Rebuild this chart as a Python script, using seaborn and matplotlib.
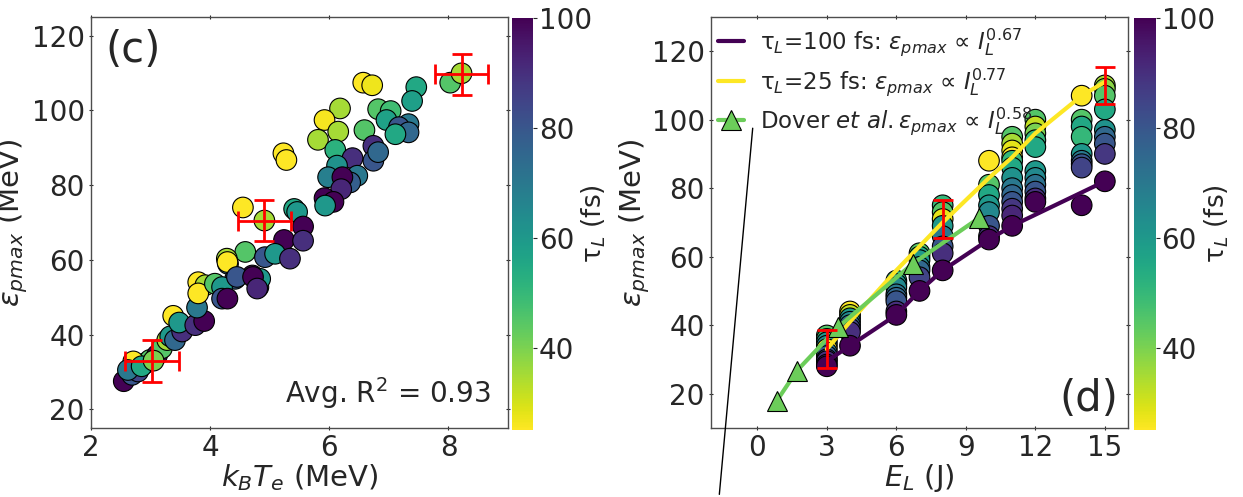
import numpy as np
import pandas as pd
import matplotlib
matplotlib.use("Agg")
import matplotlib.pyplot as plt
import seaborn as sns

# ---- painel (c): eps_pmax vs kB*Te, cor = tau_L ----
te_c = [8.03, 8.22, 7.46, 7.39, 6.82, 7.03, 6.96, 7.33, 7.17, 7.33, 7.11,
        6.57, 6.72, 6.18, 5.92, 6.15, 5.81, 6.59, 6.10, 6.74, 6.74, 6.82,
        6.39, 6.13, 5.98, 6.47, 6.35, 6.22, 6.20, 5.92, 6.07, 5.93,
        5.23, 5.28, 4.55, 4.91, 5.41, 5.46, 5.56, 5.24, 5.56,
        4.59, 4.92, 5.09, 5.34, 4.30, 4.42, 4.71, 4.81, 4.84, 4.28,
        2.55, 2.69, 2.79, 2.91, 2.99, 3.11, 2.71, 3.19, 3.28, 3.33, 3.41,
        3.53, 3.38, 3.48, 3.75, 3.90, 3.78, 3.80, 3.92, 3.80, 4.08, 4.20,
        4.20, 4.29, 4.29, 4.45, 4.72, 4.79, 2.62, 2.85, 3.05]
eps_c = [107.4, 109.9, 106.2, 102.5, 100.3, 99.8, 97.4, 96.3, 95.5, 94.1, 93.6,
         107.4, 106.7, 100.5, 97.4, 94.3, 92.1, 94.7, 89.4, 90.5, 86.5, 88.8,
         87.2, 85.2, 82.1, 82.5, 80.7, 82.1, 78.9, 76.5, 75.5, 74.5,
         88.5, 86.7, 74.0, 70.5, 73.6, 72.8, 68.9, 65.3, 65.1,
         62.1, 60.7, 61.6, 60.3, 58.9, 54.9, 55.8, 52.7, 54.9, 60.3,
         27.5, 29.2, 30.1, 32.3, 33.2, 34.5, 32.8, 36.3, 38.5, 39.5, 38.5,
         40.8, 45.0, 43.2, 42.5, 43.6, 47.2, 54.0, 53.2, 51.0, 53.6, 52.7,
         49.6, 49.6, 59.4, 55.4, 55.4, 52.3, 30.5, 31.5, 33.0]
tau_c = [45, 35, 55, 58, 45, 48, 57, 70, 80, 75, 55,
         25, 27, 35, 26, 35, 35, 45, 52, 90, 80, 75,
         90, 62, 68, 70, 78, 100, 92, 100, 100, 60,
         25, 25, 25, 35, 55, 60, 100, 100, 90,
         45, 80, 60, 90, 70, 78, 100, 90, 60, 35,
         100, 80, 85, 65, 45, 100, 25, 45, 35, 60, 75,
         90, 25, 60, 90, 100, 70, 25, 35, 25, 45, 60,
         80, 100, 25, 80, 100, 92, 70, 55, 40]

# barras de erro (c)
err_te = [8.22, 4.91, 3.02]
err_eps_c = [109.6, 70.5, 32.9]

# ---- painel (d): eps_pmax vs E_L ----
e_d = ([3] * 11 + [4] * 8 + [6] * 8 + [7] * 7 + [8] * 8 + [10] * 8
       + [11] * 13 + [12] * 11 + [14] * 9 + [15] * 9)
eps_d = [37, 36, 35, 34, 33, 32, 31, 30, 29.5, 28.5, 28,
         44, 43, 42, 41, 40, 39, 38, 34,
         53, 52, 51, 49, 48, 47, 44, 43,
         61, 60, 59, 57, 56, 54, 50,
         75, 73, 71, 69, 66, 63, 61, 56,
         88, 81, 78, 75, 73, 69, 66, 65,
         95, 93, 91, 89, 88, 86, 83, 80, 78, 76, 74, 72, 69,
         100, 98, 96, 94, 92, 85, 83, 81, 79, 77, 76,
         107, 100, 98, 95, 90, 88, 87, 86, 75,
         110, 109, 107, 103, 97, 95, 93, 90, 82]
tau_d = [45, 50, 60, 65, 25, 70, 78, 85, 90, 95, 100,
         25, 32, 60, 65, 75, 85, 90, 100,
         55, 60, 65, 70, 75, 80, 90, 100,
         45, 55, 60, 65, 75, 85, 100,
         50, 45, 28, 60, 70, 80, 90, 100,
         25, 45, 55, 60, 65, 80, 90, 100,
         45, 35, 28, 25, 50, 55, 62, 70, 75, 80, 88, 92, 100,
         45, 32, 40, 50, 55, 60, 65, 72, 80, 90, 100,
         25, 45, 55, 50, 60, 70, 80, 85, 100,
         35, 38, 45, 55, 62, 75, 80, 88, 100]

# ajustes
e_fit100 = [3, 4, 6, 7, 8, 10, 11, 15]
eps_fit100 = [29.5, 34, 43, 50, 56, 65, 69, 82]
e_fit25 = [3, 4, 6, 7, 8, 10, 11, 12, 14, 15]
eps_fit25 = [33, 41, 56, 63, 70, 83, 89, 96, 107, 111]
e_dover = [0.85, 1.71, 3.5, 6.7, 9.57]
eps_dover = [18, 26.7, 39.5, 57.9, 71.3]

# barras de erro (d)
err_e = [3, 8, 15]
err_eps_d = [33, 71, 110]

df_c = pd.DataFrame({"Te": te_c, "eps": eps_c, "tau": tau_c})
df_d = pd.DataFrame({"E": e_d, "eps": eps_d, "tau": tau_d})

sns.set_style("white")
plt.rcParams["font.family"] = ["DejaVu Sans"]
plt.rcParams["mathtext.fontset"] = "dejavusans"

cmap = "viridis_r"
norm = plt.Normalize(25, 100)
fs = 20

fig = plt.figure(figsize=(12.43, 4.97), dpi=100)
ax1 = fig.add_axes([0.0732, 0.139, 0.3355, 0.827])
cax1 = fig.add_axes([0.412, 0.135, 0.017, 0.829])
ax2 = fig.add_axes([0.572, 0.139, 0.3355, 0.827])
cax2 = fig.add_axes([0.9123, 0.135, 0.0177, 0.829])

# painel (c)
sns.scatterplot(data=df_c, x="Te", y="eps", hue="tau", hue_norm=norm, palette=cmap,
                s=220, edgecolor="black", linewidth=0.8, legend=False, ax=ax1, zorder=2)
ax1.errorbar(err_te, err_eps_c, xerr=0.45, yerr=5.5, fmt="none", ecolor="red",
             elinewidth=2, capsize=7, capthick=2, zorder=4)
ax1.set_xlim(2, 9)
ax1.set_ylim(15, 125)
ax1.set_xticks([2, 4, 6, 8])
ax1.set_yticks([20, 40, 60, 80, 100, 120])
ax1.set_xlabel(r"$k_BT_e$ (MeV)", fontsize=fs + 1, labelpad=0)
ax1.set_ylabel(r"$\epsilon_{pmax}$ (MeV)", fontsize=fs + 1, labelpad=1)
ax1.text(0.035, 0.97, "(c)", transform=ax1.transAxes, fontsize=30, va="top", ha="left")
ax1.text(0.96, 0.04, r"Avg. R$^2$ = 0.93", transform=ax1.transAxes, fontsize=fs,
         va="bottom", ha="right")

# painel (d)
sns.scatterplot(data=df_d, x="E", y="eps", hue="tau", hue_norm=norm, palette=cmap,
                s=220, edgecolor="black", linewidth=0.8, legend=False, ax=ax2, zorder=2)
ax2.plot(e_fit100, eps_fit100, color="#440154", lw=3, zorder=3,
         label=r"τ$_L$=100 fs: $\epsilon_{pmax}$ ∝ $I_L^{0.67}$")
ax2.plot(e_fit25, eps_fit25, color="#fde725", lw=3, zorder=3,
         label=r"τ$_L$=25 fs: $\epsilon_{pmax}$ ∝ $I_L^{0.77}$")
ax2.plot(e_dover, eps_dover, color="#6ccd5a", lw=3, marker="^", ms=15,
         markerfacecolor="#6ccd5a", markeredgecolor="black", markeredgewidth=0.8, zorder=3,
         label=r"Dover $et\ al.$$\epsilon_{pmax}$ ∝ $I_L^{0.58}$")
ax2.errorbar(err_e, err_eps_d, yerr=5.5, fmt="none", ecolor="red",
             elinewidth=2, capsize=7, capthick=2, zorder=4)
ax2.plot([-0.2, -1.64], [97.5, -9.4], color="black", lw=1, clip_on=False, zorder=5)
ax2.set_xlim(-2, 16)
ax2.set_ylim(10, 130)
ax2.set_xticks([0, 3, 6, 9, 12, 15])
ax2.set_yticks([20, 40, 60, 80, 100, 120])
ax2.set_xlabel(r"$E_L$ (J)", fontsize=fs + 1, labelpad=0)
ax2.set_ylabel(r"$\epsilon_{pmax}$ (MeV)", fontsize=fs + 1, labelpad=0)
ax2.text(0.976, 0.02, "(d)", transform=ax2.transAxes, fontsize=30, va="bottom", ha="right")
ax2.legend(loc="upper left", bbox_to_anchor=(-0.015, 1.01), frameon=False,
           fontsize=16.5, handlelength=1.1, handletextpad=0.7, labelspacing=0.35,
           borderaxespad=0.2)

for ax in (ax1, ax2):
    ax.tick_params(labelsize=fs, length=3, width=0.8, left=True, bottom=True,
                   top=True, right=True, direction="inout", pad=3)
    for sp in ax.spines.values():
        sp.set_color("0.3")
        sp.set_linewidth(1)

sm = plt.cm.ScalarMappable(norm=norm, cmap=cmap)
for cax in (cax1, cax2):
    cb = fig.colorbar(sm, cax=cax)
    cb.outline.set_visible(False)
    cb.set_ticks([40, 60, 80, 100])
    cb.ax.tick_params(labelsize=fs, length=3, pad=1)
    cb.set_label(r"τ$_L$ (fs)", fontsize=19, labelpad=-9)

fig.savefig("out.png", dpi=100)
